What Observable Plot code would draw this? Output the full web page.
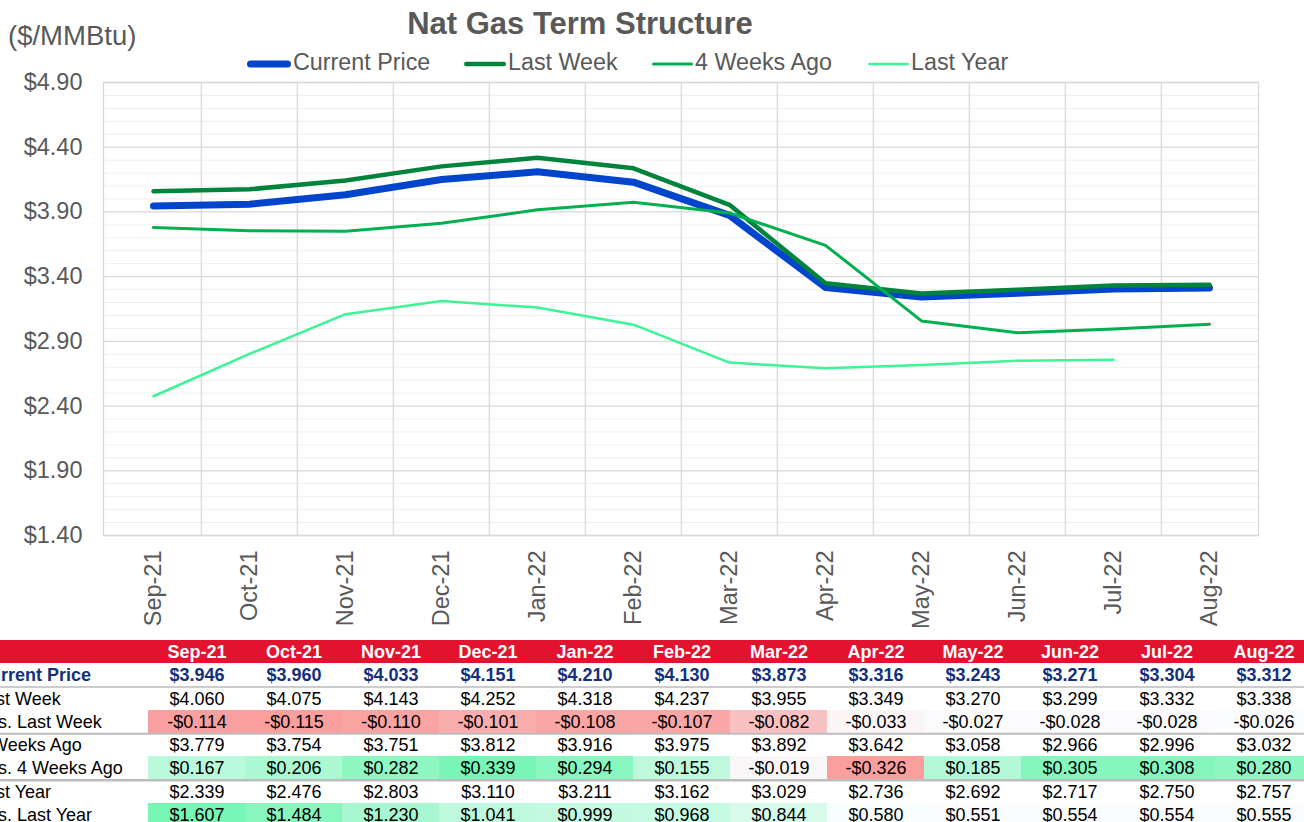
<!DOCTYPE html>
<html>
<head>
<meta charset="utf-8">
<script src="https://cdn.jsdelivr.net/npm/d3@7"></script>
<script src="https://cdn.jsdelivr.net/npm/@observablehq/plot@0.6"></script>
<style>
  html, body { margin: 0; padding: 0; background: #ffffff; overflow: hidden; }
  #root { position: relative; width: 1304px; height: 822px; overflow: hidden;
          font-family: "Liberation Sans", Arial, sans-serif; color: #595959; }
  #title { position: absolute; left: 280px; width: 600px; top: 8px; text-align: center;
           font-weight: bold; font-size: 31px; line-height: 31px; white-space: nowrap; }
  #unit { position: absolute; left: 8px; top: 22px; font-size: 27.5px; line-height: 27px; white-space: nowrap; }
  .leg { position: absolute; top: 51px; display: flex; align-items: center; font-size: 23.3px;
         line-height: 23px; white-space: nowrap; }
  .leg svg { display: block; }
  #chart { position: absolute; left: 0; top: 0; }
  #table { position: absolute; left: 0; top: 639.5px; }
</style>
</head>
<body>
<div id="root">
  <div id="chart"></div>
  <div id="title">Nat Gas Term Structure</div>
  <div id="unit">($/MMBtu)</div>
  <div id="legend"></div>
  <div id="table"></div>
</div>
<script>
// ---------------- data ----------------
const months = ["Sep-21","Oct-21","Nov-21","Dec-21","Jan-22","Feb-22","Mar-22","Apr-22","May-22","Jun-22","Jul-22","Aug-22"];
const currentPrice = [3.946, 3.960, 4.033, 4.151, 4.210, 4.130, 3.873, 3.316, 3.243, 3.271, 3.304, 3.312];
const lastWeek     = [4.060, 4.075, 4.143, 4.252, 4.318, 4.237, 3.955, 3.349, 3.270, 3.299, 3.332, 3.338];
const weeks4Ago    = [3.779, 3.754, 3.751, 3.812, 3.916, 3.975, 3.892, 3.642, 3.058, 2.966, 2.996, 3.032];
const lastYear     = [2.339, 2.476, 2.803, 3.110, 3.211, 3.162, 3.029, 2.736, 2.692, 2.717, 2.750, 2.757];
// the chart's "Last Year" line as drawn (one month offset, no Aug point)
const lastYearLine = [2.476, 2.803, 3.110, 3.211, 3.162, 3.029, 2.736, 2.692, 2.717, 2.750, 2.757, null];
const vsLastWeek   = [-0.114, -0.115, -0.110, -0.101, -0.108, -0.107, -0.082, -0.033, -0.027, -0.028, -0.028, -0.026];
const vs4WeeksAgo  = [0.167, 0.206, 0.282, 0.339, 0.294, 0.155, -0.019, -0.326, 0.185, 0.305, 0.308, 0.280];
const vsLastYear   = [1.607, 1.484, 1.230, 1.041, 0.999, 0.968, 0.844, 0.580, 0.551, 0.554, 0.554, 0.555];
const yTicks = [1.40, 1.90, 2.40, 2.90, 3.40, 3.90, 4.40, 4.90];
const yMinorTicks = [1.5,1.6,1.7,1.8,2.0,2.1,2.2,2.3,2.5,2.6,2.7,2.8,3.0,3.1,3.2,3.3,3.5,3.6,3.7,3.8,4.0,4.1,4.2,4.3,4.5,4.6,4.7,4.8];
const seriesNames = ["Current Price", "Last Week", "4 Weeks Ago", "Last Year"];
const rowLabels = ["Current Price", "Last Week", "vs. Last Week", "4 Weeks Ago", "vs. 4 Weeks Ago", "Last Year", "vs. Last Year"];

// ---------------- styles ----------------
const seriesStyle = {
  "Current Price": {stroke: "#0045CB", width: 7},
  "Last Week":     {stroke: "#00843C", width: 4.5},
  "4 Weeks Ago":   {stroke: "#00B050", width: 3},
  "Last Year":     {stroke: "#3CF594", width: 2.5}
};
const seriesValues = [currentPrice, lastWeek, weeks4Ago, lastYearLine];

// ---------------- legend ----------------
const legendPos = [[247, 46], [464, 44], [652, 43], [868, 43]];
const legend = document.getElementById("legend");
seriesNames.forEach((name, i) => {
  const st = seriesStyle[name];
  const [left, sw] = legendPos[i];
  const item = document.createElement("div");
  item.className = "leg";
  item.style.left = left + "px";
  const r = st.width / 2;
  item.innerHTML = `<svg width="${sw}" height="20"><line x1="${r}" x2="${sw - 2 - r}" y1="11" y2="11" stroke="${st.stroke}" stroke-width="${st.width}" stroke-linecap="round"/></svg><span>${name}</span>`;
  legend.appendChild(item);
});

// ---------------- chart ----------------
const W = 1304, ML = 103, MR = 46;
const bw = (W - ML - MR) / months.length;
const lineData = seriesNames.flatMap((name, s) =>
  months.map((m, i) => ({series: name, month: m, value: seriesValues[s][i]})).filter(d => d.value != null));

const chart = Plot.plot({
  width: W, height: 640,
  marginLeft: ML, marginRight: MR, marginTop: 82, marginBottom: 105,
  style: {fontFamily: "'Liberation Sans', Arial, sans-serif", fontSize: "23.5px", color: "#595959", background: "transparent"},
  x: {type: "band", domain: months, padding: 0, tickRotate: -90, tickSize: 0, tickPadding: 15, label: null},
  y: {domain: [1.4, 4.9], ticks: yTicks, tickFormat: d => "$" + d.toFixed(2), tickSize: 0, tickPadding: 21, label: null},
  marks: [
    Plot.ruleY(yMinorTicks, {stroke: "#EFEFEF", strokeWidth: 1}),
    Plot.ruleY(yTicks, {stroke: "#D9D9D9", strokeWidth: 1.3}),
    Plot.ruleX(months.slice(1), {dx: -bw / 2, stroke: "#D9D9D9", strokeWidth: 1.3}),
    Plot.frame({stroke: "#D9D9D9", strokeWidth: 1.3}),
    ...seriesNames.map(name => Plot.line(lineData.filter(d => d.series === name), {
      x: "month", y: "value",
      stroke: seriesStyle[name].stroke, strokeWidth: seriesStyle[name].width,
      strokeLinecap: "round", strokeLinejoin: "round"
    }))
  ]
});
document.getElementById("chart").appendChild(chart);

// ---------------- table ----------------
const fmt = v => (v < 0 ? "-$" : "$") + Math.abs(v).toFixed(3);
const rowValues = [currentPrice, lastWeek, vsLastWeek, weeks4Ago, vs4WeeksAgo, lastYear, vsLastYear];
const isDiff = [false, false, true, false, true, false, true];
const RED = "#FA9E9E", GREEN = "#78F6B6", WHITE = "#FBFCFE";
function cellColor(v, vals) {
  const mn = d3.min(vals), mx = d3.max(vals);
  const mid = Math.max(mn, Math.min(0, mx));
  if (v < mid) return d3.interpolateRgb(WHITE, RED)((mid - v) / (mid - mn));
  if (v > mid) return d3.interpolateRgb(WHITE, GREEN)((v - mid) / (mx - mid));
  return WHITE;
}
const cells = rowValues.flatMap((vals, r) => months.map((m, j) => ({
  row: r + 1, month: m, value: vals[j], diff: isDiff[r], fill: isDiff[r] ? cellColor(vals[j], vals) : null
})));
const labelRows = rowLabels.map((label, i) => ({label, row: i + 1, diff: isDiff[i]}));
const colDomain = ["L1", "L2", ...months];
const colW = 97.3;
const x0 = 146 - 2 * colW;
const rowH = 23.3;

const table = Plot.plot({
  width: W, height: 8 * rowH + 2,
  margin: 0,
  style: {fontFamily: "'Liberation Sans', Arial, sans-serif", fontSize: "18px", color: "#000", background: "transparent"},
  x: {type: "band", domain: colDomain, range: [x0, x0 + colDomain.length * colW], padding: 0, axis: null},
  y: {domain: [0, 8], range: [0, 8 * rowH], axis: null},
  color: {type: "identity"},
  marks: [
    Plot.barY(colDomain, {x: d => d, y1: () => 0, y2: () => 1, fill: "#E2132E", shapeRendering: "crispEdges"}),
    Plot.barY(cells.filter(d => d.diff), {x: "month", y1: d => d.row, y2: d => d.row + 1, fill: "fill", shapeRendering: "crispEdges"}),
    Plot.ruleY([2], {stroke: "#BDBDBD", strokeWidth: 1.5}),
    Plot.ruleY([4], {stroke: "#BDBDBD", strokeWidth: 2}),
    Plot.ruleY([6], {stroke: "#BDBDBD", strokeWidth: 2.5}),
    Plot.text(months, {x: d => d, y: () => 0.5, fill: "#ffffff", fontWeight: "bold"}),
    Plot.text(cells.filter(d => d.row === 1), {x: "month", y: d => d.row + 0.5, text: d => fmt(d.value), fill: "#14307A", fontWeight: "bold"}),
    Plot.text(cells.filter(d => d.row > 1), {x: "month", y: d => d.row + 0.5, text: d => fmt(d.value), fill: "#000000"}),
    Plot.text(labelRows.filter(d => d.row === 1), {x: () => "L1", y: d => d.row + 0.5, text: "label", textAnchor: "start", dx: -26, fill: "#14307A", fontWeight: "bold"}),
    Plot.text(labelRows.filter(d => d.row > 1 && !d.diff), {x: () => "L1", y: d => d.row + 0.5, text: "label", textAnchor: "start", dx: -27, fill: "#000000"}),
    Plot.text(labelRows.filter(d => d.diff), {x: () => "L1", y: d => d.row + 0.5, text: "label", textAnchor: "start", dx: -14, fill: "#000000"})
  ]
});
document.getElementById("table").appendChild(table);
</script>
</body>
</html>
